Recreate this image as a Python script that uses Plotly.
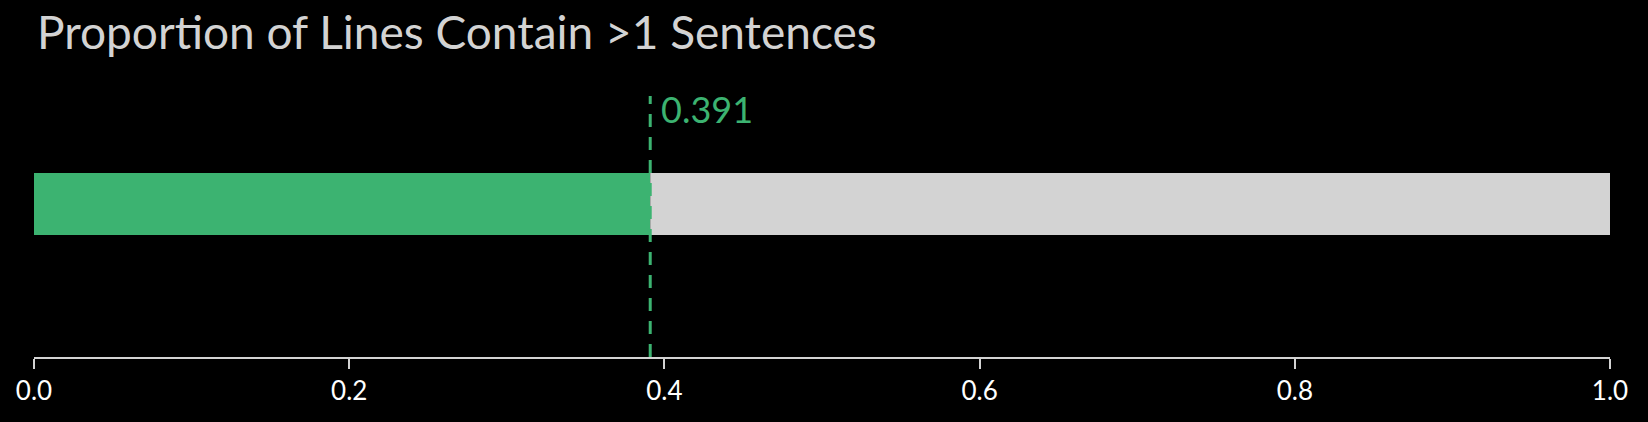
import plotly.graph_objects as go

# single proportion shown as a filled bar against the remainder
metric = "Proportion of Lines Contain >1 Sentences"
value = 0.391
remainder = 1.0 - value
tick_vals = [0.0, 0.2, 0.4, 0.6, 0.8, 1.0]
tick_text = ["0.0", "0.2", "0.4", "0.6", "0.8", "1.0"]

green = "#3CB371"
grey = "#D3D3D3"
font_family = "Futura, Lato, sans-serif"

fig = go.Figure()
fig.add_trace(go.Bar(x=[value], y=[0], orientation="h", width=0.5,
                     marker=dict(color=green, line=dict(width=0)),
                     hoverinfo="skip"))
fig.add_trace(go.Bar(x=[remainder], y=[0], base=[value], orientation="h", width=0.5,
                     marker=dict(color=grey, line=dict(width=0)),
                     hoverinfo="skip"))

# marker line for the value
fig.add_shape(type="line", x0=value, x1=value, xref="x", y0=0, y1=1, yref="paper",
              line=dict(color=green, width=3, dash="13px,10px"))
fig.add_annotation(x=value, y=1, xref="x", yref="paper", text=f"{value:.3f}",
                   showarrow=False, xanchor="left", yanchor="top", xshift=9, yshift=11,
                   font=dict(family=font_family, size=36, color=green))

fig.update_layout(
    width=1648, height=422,
    paper_bgcolor="black", plot_bgcolor="black",
    margin=dict(l=34, r=38, t=96, b=65),
    barmode="overlay",
    showlegend=False,
    title=dict(text=metric, x=37 / 1648, xanchor="left", xref="container",
               y=1 - 17 / 422, yanchor="top", yref="container",
               font=dict(family=font_family, size=46, color="#D3D3D3")),
    font=dict(family=font_family),
)
fig.update_xaxes(range=[0, 1], tickvals=tick_vals, ticktext=tick_text,
                 showgrid=False, zeroline=False, showline=True, linecolor=grey, linewidth=2,
                 ticks="outside", ticklen=10, tickwidth=2, tickcolor=grey,
                 tickfont=dict(size=26, color="white", family=font_family))
fig.update_yaxes(range=[-1.234, 0.871], visible=False, showgrid=False, zeroline=False)

# drop the default page margin so the figure sits flush in the window
fig.write_html("out.html", config={"displayModeBar": False},
               post_script="document.body.style.margin='0';"
                           "document.body.style.backgroundColor='black';")
